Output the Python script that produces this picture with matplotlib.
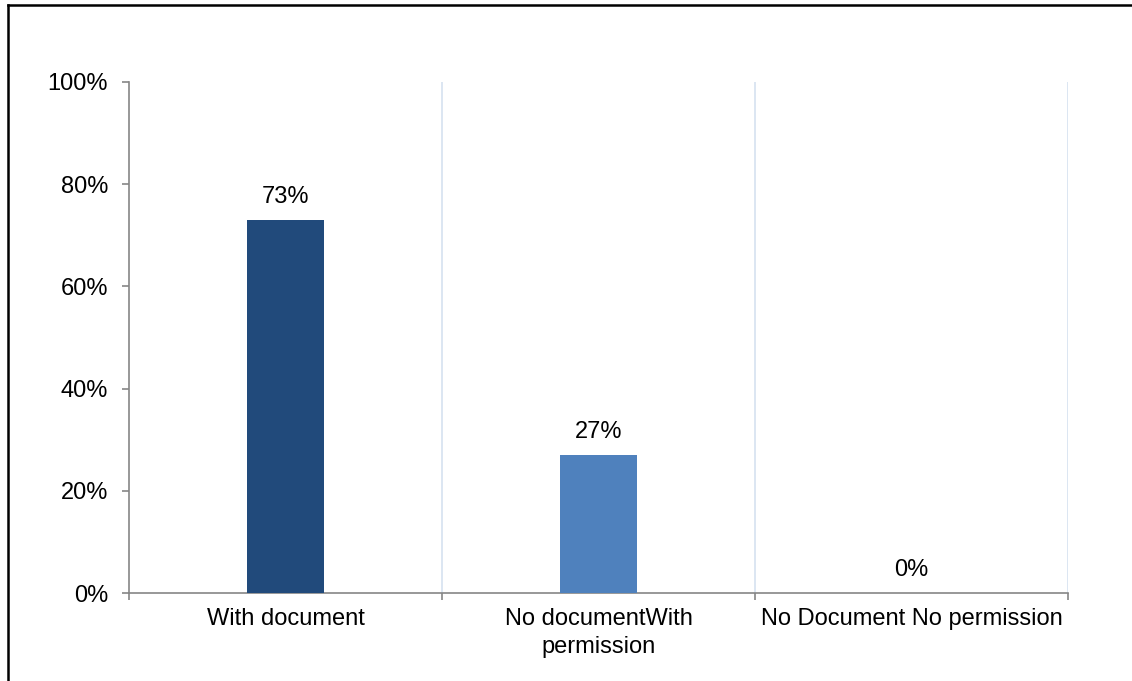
import matplotlib
matplotlib.use("Agg")
import matplotlib.pyplot as plt
from matplotlib.lines import Line2D

categories = ["With document", "No documentWith\npermission", "No Document No permission"]
values = [73, 27, 0]
bar_colors = ["#214A7B", "#4F81BD", "#4F81BD"]
yticks = [0, 20, 40, 60, 80, 100]

plt.rcParams["font.family"] = ["Liberation Sans", "DejaVu Sans"]
FS = 17

fig = plt.figure(figsize=(11.32, 6.81), dpi=100)
ax = fig.add_axes([0.1140, 0.1292, 0.8295, 0.7504])

x = list(range(len(categories)))
bars = ax.bar(x, values, width=0.245, color=bar_colors, zorder=3)

for xi, v in zip(x, values):
    ax.annotate(f"{v}%", (xi, v), xytext=(0, 12), textcoords="offset points",
                ha="center", va="baseline", fontsize=FS, color="#000000")

ax.set_xlim(-0.5, len(categories) - 0.5)
ax.set_ylim(0, 100)
ax.set_yticks(yticks)
ax.set_yticklabels([f"{t}%" for t in yticks], fontsize=FS)
ax.set_xticks(x)
ax.set_xticklabels(categories, fontsize=FS, linespacing=1.35)

# category boundary ticks and light vertical gridlines
bounds = [i - 0.5 for i in range(len(categories) + 1)]
ax.set_xticks(bounds, minor=True)
for b in bounds[1:]:
    ax.axvline(b, color="#D9E4F1", lw=1.3, zorder=1)

ax.tick_params(axis="x", which="major", length=0, pad=11)
ax.tick_params(axis="x", which="minor", length=5, color="#868686", width=1.2, direction="out")
ax.tick_params(axis="y", length=5, color="#868686", width=1.2, direction="out", pad=10)

for side in ["top", "right"]:
    ax.spines[side].set_visible(False)
for side in ["left", "bottom"]:
    ax.spines[side].set_color("#868686")
    ax.spines[side].set_linewidth(1.2)

# outer frame (top and left edges)
fig.add_artist(Line2D([8 / 1132, 1.0], [1 - 5 / 681, 1 - 5 / 681], color="black", lw=1.8,
                      transform=fig.transFigure))
fig.add_artist(Line2D([8 / 1132, 8 / 1132], [0, 1 - 5 / 681], color="black", lw=1.8,
                      transform=fig.transFigure))

fig.savefig("out.png", dpi=100)
